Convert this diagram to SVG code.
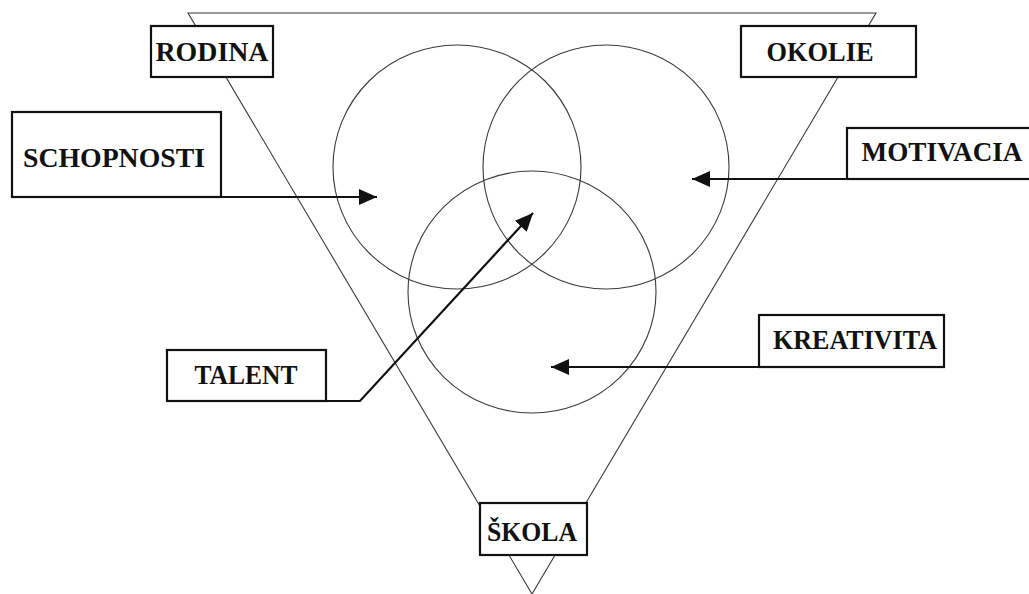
<svg xmlns="http://www.w3.org/2000/svg" width="1029" height="594" viewBox="0 0 1029 594">
<style>
.bg{fill:#ffffff}
.thin{fill:none;stroke:#3a3a3a;stroke-width:1.1}
.box{fill:#ffffff;stroke:#111111;stroke-width:2.2}
.lbl{font-family:"Liberation Serif","Times New Roman",serif;font-weight:bold;font-size:27px;fill:#111111;text-anchor:middle}
.conn{fill:none;stroke:#111111;stroke-width:2.2}
</style>
<defs>
<marker id="ah" markerUnits="userSpaceOnUse" markerWidth="20" markerHeight="18" refX="18" refY="8" orient="auto">
<path d="M0,0 L18,8 L0,16 Z" fill="#111111"/>
</marker>
</defs>
<rect class="bg" x="0" y="0" width="1029" height="594"/>
<g id="shapes">
<polygon class="thin" points="188,13 876,13 532,594"/>
<ellipse class="thin" cx="457" cy="167" rx="124" ry="122"/>
<ellipse class="thin" cx="606" cy="167" rx="123" ry="122"/>
<ellipse class="thin" cx="532" cy="292" rx="124" ry="121"/>
</g>
<g id="connectors">
<line class="conn" x1="221" y1="197" x2="377" y2="197" marker-end="url(#ah)"/>
<line class="conn" x1="847" y1="179" x2="692" y2="179" marker-end="url(#ah)"/>
<line class="conn" x1="759" y1="367" x2="551" y2="367" marker-end="url(#ah)"/>
<polyline class="conn" points="326,401 360,401 533,213" marker-end="url(#ah)"/>
</g>
<g id="rodina">
<rect class="box" x="151" y="26" width="122" height="51"/>
<text class="lbl" x="212" y="61" textLength="113" lengthAdjust="spacingAndGlyphs">RODINA</text>
</g>
<g id="okolie">
<rect class="box" x="741" y="26" width="175" height="51"/>
<text class="lbl" x="820" y="61" textLength="107" lengthAdjust="spacingAndGlyphs">OKOLIE</text>
</g>
<g id="schopnosti">
<rect class="box" x="12" y="112" width="209" height="85"/>
<text class="lbl" x="114" y="167" textLength="182" lengthAdjust="spacingAndGlyphs">SCHOPNOSTI</text>
</g>
<g id="motivacia">
<rect class="box" x="847" y="128" width="190" height="51"/>
<text class="lbl" x="942" y="161" textLength="161" lengthAdjust="spacingAndGlyphs">MOTIVACIA</text>
</g>
<g id="kreativita">
<rect class="box" x="759" y="315" width="185" height="52"/>
<text class="lbl" x="855" y="349" textLength="164" lengthAdjust="spacingAndGlyphs">KREATIVITA</text>
</g>
<g id="talent">
<rect class="box" x="167" y="350" width="159" height="51"/>
<text class="lbl" x="246" y="384" textLength="103" lengthAdjust="spacingAndGlyphs">TALENT</text>
</g>
<g id="skola">
<rect class="box" x="480" y="503" width="107" height="52"/>
<text class="lbl" x="532" y="541" textLength="90" lengthAdjust="spacingAndGlyphs">ŠKOLA</text>
</g>
</svg>
